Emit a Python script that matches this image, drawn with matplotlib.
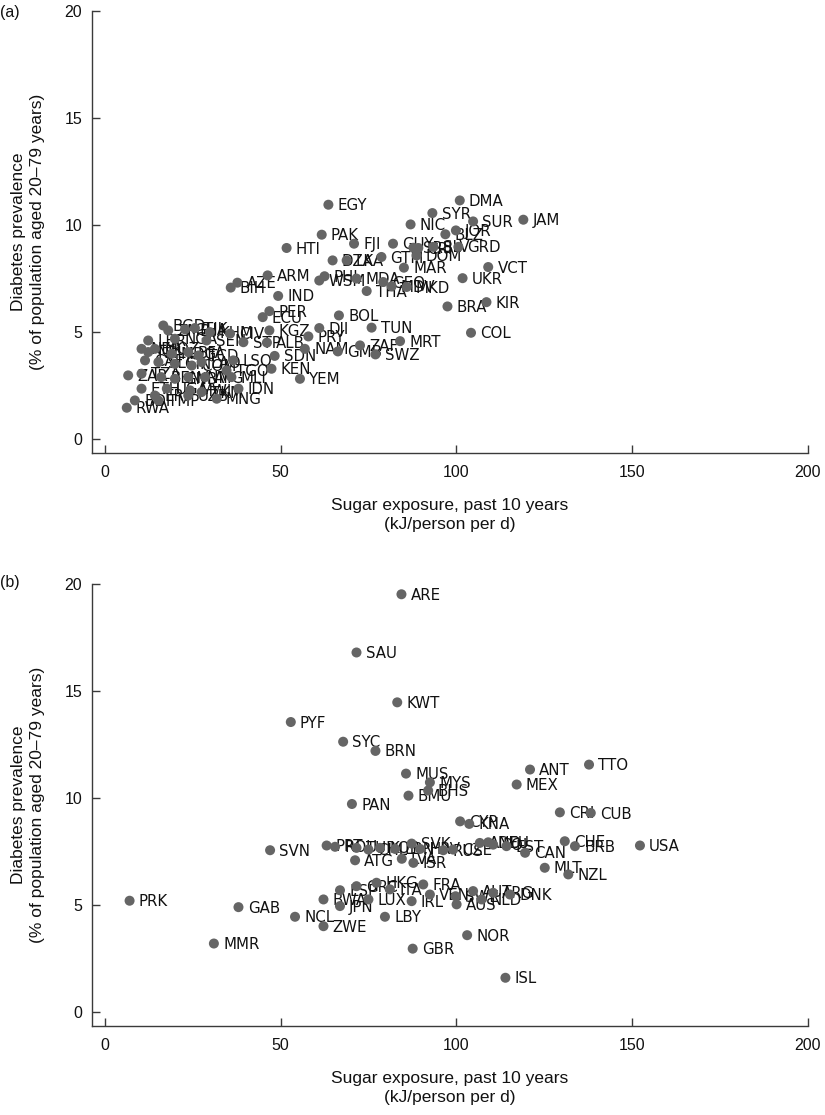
import matplotlib
matplotlib.use('Agg')
import matplotlib.pyplot as plt

# ---------------- Panel (a) data ----------------
codes_a = ['EGY', 'DMA', 'SYR', 'NIC', 'SUR', 'JAM', 'BLZ', 'JOR', 'PAK', 'HTI',
           'FJI', 'GUY', 'SRB', 'CRI', 'SLV', 'GRD', 'DZA', 'LKA', 'GTM', 'DOM',
           'MAR', 'VCT', 'UKR', 'ARM', 'AZE', 'BIH', 'IND', 'WSM', 'PHL', 'MDA',
           'GEO', 'THA', 'MDV', 'MKD', 'BRA', 'KIR', 'COL', 'BOL', 'TUN', 'MRT',
           'ZAF', 'PER', 'ECU', 'KGZ', 'DJI', 'PRY', 'NAM', 'GMB', 'SWZ', 'SDN',
           'KEN', 'YEM', 'STP', 'ALB', 'SEN', 'NGA', 'LBR', 'BGD', 'ZMB', 'GHA',
           'TJK', 'KHM', 'CIV', 'NER', 'NPL', 'MOZ', 'MDG', 'BFA', 'TCD', 'CAF',
           'SLE', 'GIN', 'COM', 'LAO', 'LSO', 'TZA', 'ZAR', 'BEN', 'GNB', 'VNM',
           'AFG', 'TGO', 'MLI', 'ETH', 'UGA', 'MWI', 'IDN', 'ERI', 'UZB', 'TKM',
           'MNG', 'BDI', 'TMP', 'RWA']
sugar_a = [63.6, 101.0, 93.2, 87.0, 104.8, 119.1, 96.9, 99.9, 61.7, 51.7,
           70.9, 82.0, 87.8, 89.2, 93.5, 100.6, 64.8, 68.8, 78.7, 88.7,
           85.1, 109.1, 101.8, 46.3, 37.7, 35.8, 49.3, 61.0, 62.5, 71.6,
           79.2, 74.5, 81.6, 85.9, 97.5, 108.6, 104.2, 66.6, 75.9, 84.0,
           72.6, 46.8, 44.9, 46.8, 61.0, 57.9, 56.9, 66.3, 77.0, 48.3,
           47.4, 55.5, 39.4, 46.1, 28.9, 19.9, 12.3, 16.6, 18.0, 22.8,
           25.6, 29.9, 35.6, 10.4, 12.3, 14.2, 19.0, 23.7, 26.6, 11.4,
           15.2, 19.9, 24.7, 27.5, 36.5, 10.4, 6.6, 16.0, 19.9, 23.7,
           28.5, 34.6, 36.0, 10.4, 17.6, 24.2, 38.0, 14.2, 23.7, 27.5,
           31.8, 8.5, 15.2, 6.2]
diab_a = [10.94, 11.14, 10.55, 10.02, 10.16, 10.24, 9.56, 9.74, 9.54, 8.92,
          9.12, 9.12, 8.93, 8.92, 8.97, 8.97, 8.34, 8.34, 8.50, 8.57,
          8.00, 8.03, 7.51, 7.64, 7.30, 7.07, 6.68, 7.40, 7.60, 7.49,
          7.33, 6.91, 7.13, 7.10, 6.19, 6.39, 4.96, 5.77, 5.20, 4.57,
          4.37, 5.97, 5.69, 5.07, 5.18, 4.79, 4.21, 4.09, 3.95, 3.88,
          3.28, 2.81, 4.52, 4.50, 4.60, 4.68, 4.60, 5.30, 5.07, 5.12,
          5.18, 4.99, 4.92, 4.21, 4.06, 4.21, 3.98, 4.06, 3.90, 3.67,
          3.59, 3.51, 3.43, 3.59, 3.67, 3.05, 2.97, 2.89, 2.81, 2.89,
          2.89, 3.20, 2.89, 2.35, 2.35, 2.27, 2.35, 2.03, 2.03, 2.19,
          1.88, 1.80, 1.80, 1.46]

# ---------------- Panel (b) data ----------------
codes_b = ['ARE', 'SAU', 'KWT', 'PYF', 'SYC', 'BRN', 'MUS', 'MYS', 'BMU', 'BHS',
           'PAN', 'ANT', 'MEX', 'TTO', 'CRI', 'CUB', 'CYP', 'KNA', 'CHE', 'BRB',
           'USA', 'CAN', 'MLT', 'NZL', 'SVN', 'PRT', 'ROU', 'TUR', 'CHL', 'KOR',
           'LBN', 'SVK', 'HRV', 'RUS', 'CZE', 'AND', 'DEU', 'POL', 'EST', 'ATG',
           'LVA', 'ISR', 'ESP', 'GRC', 'HKG', 'ITA', 'FRA', 'VEN', 'SWE', 'AUS',
           'NLD', 'AUT', 'ARG', 'DNK', 'BWA', 'JPN', 'LUX', 'IRL', 'NCL', 'ZWE',
           'LBY', 'NOR', 'GBR', 'ISL', 'PRK', 'GAB', 'MMR']
sugar_b = [84.4, 71.6, 83.2, 52.9, 67.8, 77.0, 85.7, 92.5, 86.4, 92.0,
           70.3, 121.0, 117.2, 137.8, 129.5, 138.3, 101.1, 103.7, 130.9, 133.8,
           152.3, 119.6, 125.2, 131.9, 47.0, 63.1, 65.5, 71.6, 75.0, 78.3,
           82.6, 87.3, 89.7, 96.3, 99.1, 106.7, 109.1, 110.5, 114.3, 71.2,
           84.5, 87.8, 66.9, 71.6, 77.3, 81.1, 90.6, 92.5, 99.8, 100.1,
           107.2, 104.8, 110.5, 115.3, 62.2, 66.9, 75.0, 87.3, 54.1, 62.2,
           79.7, 103.1, 87.6, 114.0, 7.0, 38.0, 31.0]
diab_b = [19.52, 16.80, 14.47, 13.55, 12.63, 12.20, 11.14, 10.73, 10.11, 10.35,
          9.72, 11.33, 10.63, 11.56, 9.33, 9.30, 8.91, 8.79, 7.98, 7.75,
          7.78, 7.44, 6.74, 6.43, 7.56, 7.78, 7.72, 7.67, 7.59, 7.67,
          7.62, 7.87, 7.62, 7.56, 7.59, 7.90, 7.93, 7.82, 7.75, 7.09,
          7.16, 6.97, 5.69, 5.88, 6.04, 5.73, 5.96, 5.49, 5.41, 5.03,
          5.26, 5.65, 5.57, 5.49, 5.26, 4.95, 5.26, 5.18, 4.45, 4.01,
          4.45, 3.59, 2.96, 1.60, 5.20, 4.90, 3.20]

x_ticks = [0, 50, 100, 150, 200]
y_ticks = [0, 5, 10, 15, 20]
xlabel = 'Sugar exposure, past 10 years\n(kJ/person per d)'
ylabel = 'Diabetes prevalence\n(% of population aged 20\u201379 years)'
panel_tags = ['(a)', '(b)']

W, H = 825, 1115
fig = plt.figure(figsize=(W / 100, H / 100), dpi=100)

left_px, right_px = 92, 807.5
axes_px = [(10.7, 452.7), (584.0, 1025.7)]
tag_y_px = [13, 582]

AX_FONT = 'Liberation Sans'
LBL_FONT = 'DejaVu Sans'
dot_color = '#656565'
spine_color = '#3a3a3a'

datasets = [(codes_a, sugar_a, diab_a), (codes_b, sugar_b, diab_b)]

for i, (codes, xs, ys) in enumerate(datasets):
    top_px, bot_px = axes_px[i]
    ax = fig.add_axes([left_px / W, 1 - bot_px / H,
                       (right_px - left_px) / W, (bot_px - top_px) / H])
    ax.set_xlim(-3.7, 200)
    ax.set_ylim(-0.64, 20)
    ax.scatter(xs, ys, s=52, color=dot_color, edgecolors='none', zorder=3,
               clip_on=False)
    for c, x, y in zip(codes, xs, ys):
        ax.annotate(c, (x, y), xytext=(6.6, -4.0), textcoords='offset points',
                    ha='left', va='baseline', fontsize=10.8, family=LBL_FONT,
                    color='#111111', zorder=2, annotation_clip=False)
    for s in ['top', 'right']:
        ax.spines[s].set_visible(False)
    for s in ['left', 'bottom']:
        ax.spines[s].set_color(spine_color)
        ax.spines[s].set_linewidth(1.0)
    ax.set_xticks(x_ticks)
    ax.set_yticks(y_ticks)
    ax.tick_params(direction='in', length=5.5, width=1.0, color=spine_color,
                   labelsize=11.5, labelcolor='#111111')
    ax.tick_params(axis='x', pad=8.5)
    ax.tick_params(axis='y', pad=7)
    for lab in ax.get_xticklabels() + ax.get_yticklabels():
        lab.set_family(AX_FONT)
    ax.set_xlabel(xlabel, fontsize=12.5, family=AX_FONT, linespacing=1.35,
                  color='#111111')
    ax.xaxis.set_label_coords(0.5, -0.102)
    ax.set_ylabel(ylabel, fontsize=12.5, family=AX_FONT, linespacing=1.35,
                  color='#111111', va='center')
    ax.yaxis.set_label_coords(-0.089, 0.5)
    fig.text(0.0, 1 - tag_y_px[i] / H, panel_tags[i], fontsize=11.5,
             family=AX_FONT, ha='left', va='center', color='#111111')

fig.savefig('out.png', dpi=100)
